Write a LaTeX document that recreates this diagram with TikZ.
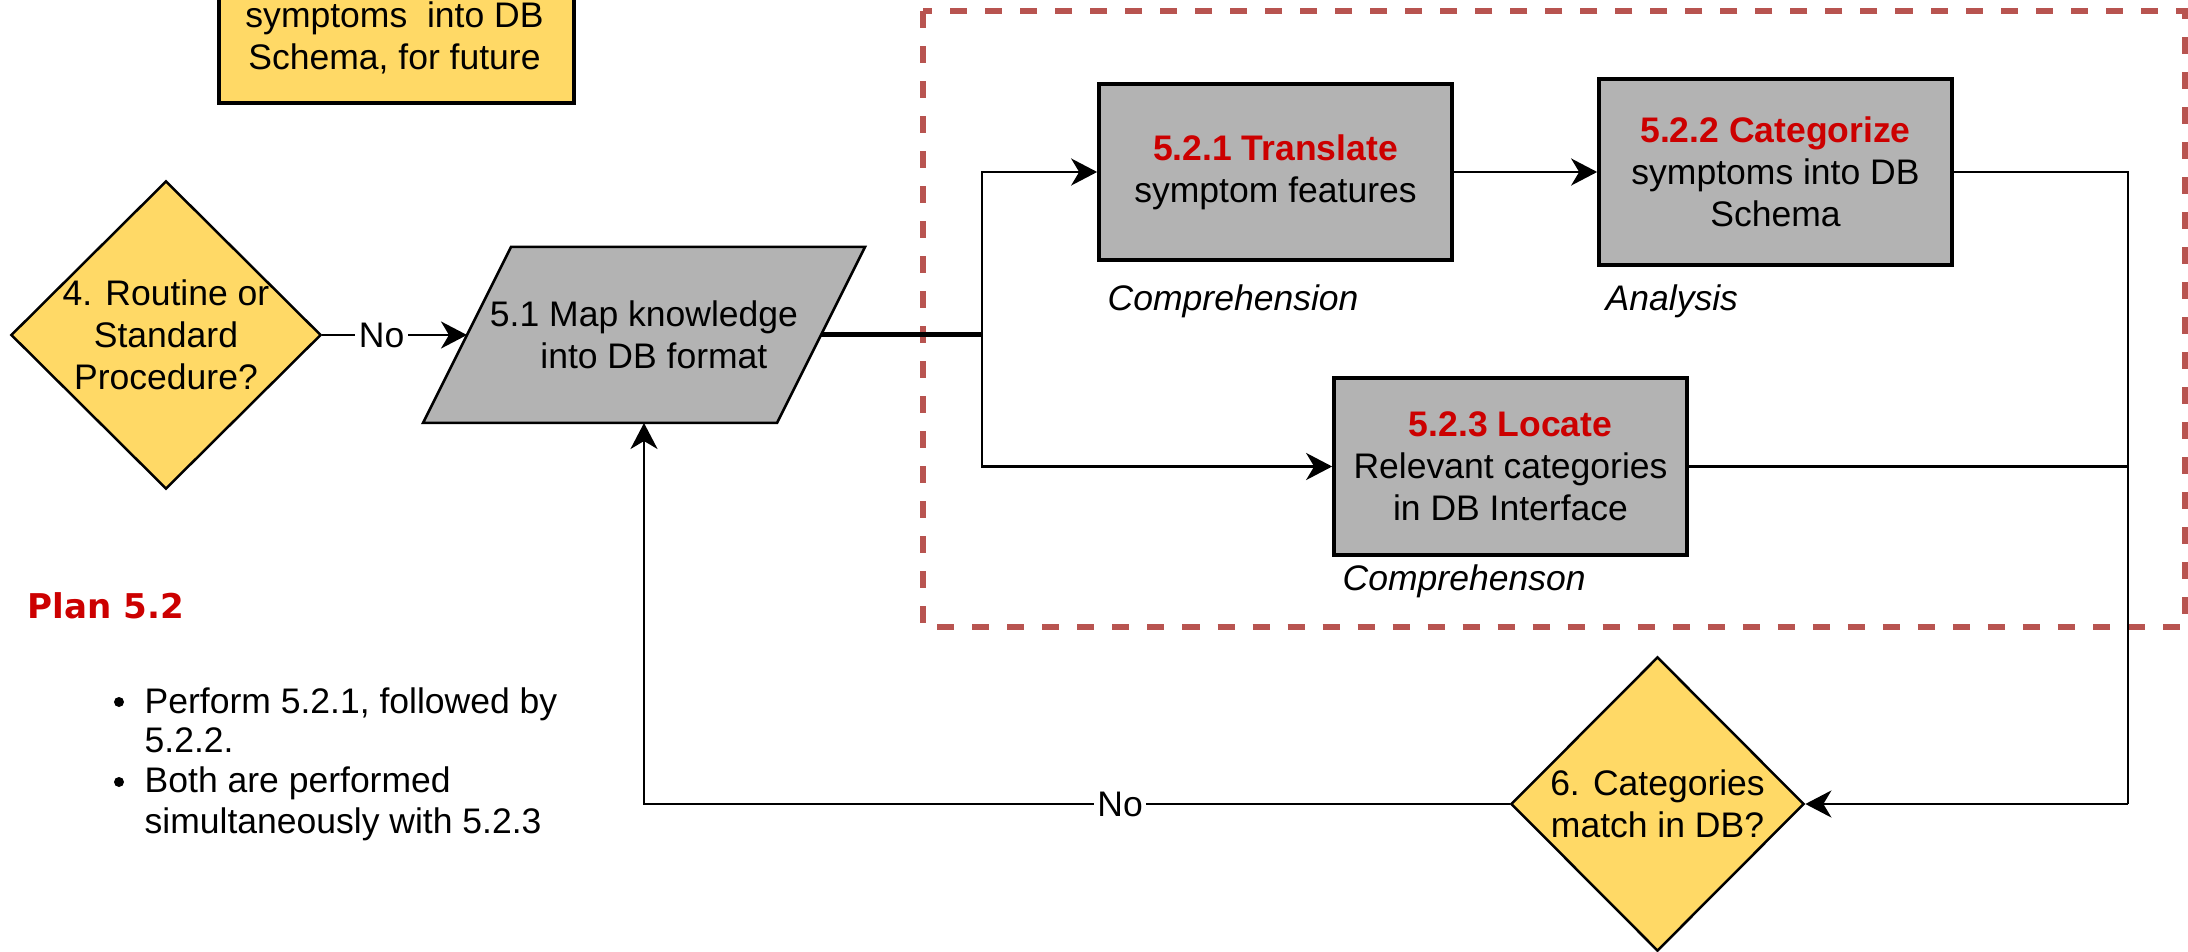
\documentclass[tikz,border=0pt]{standalone}
\usepackage{fontspec}
\setmainfont{Liberation Sans}
\newfontfamily\heavyfont{DejaVu Sans}
\usetikzlibrary{arrows.meta,shapes.geometric}
\definecolor{boxyellow}{HTML}{FFD966}
\definecolor{boxgray}{HTML}{B3B3B3}
\definecolor{titlered}{HTML}{CC0000}
\definecolor{groupred}{RGB}{184,84,80}
\newcommand{\basefont}{\fontsize{10.1pt}{11.95pt}\selectfont}

\begin{document}
\begin{tikzpicture}[x=0.01cm, y=-0.01cm,
  every node/.style={font=\basefont, inner sep=0pt},
  stepbox/.style={rectangle, draw=black, line width=0.035cm, fill=boxgray,
    minimum width=3.53cm, align=center},
  decision/.style={diamond, aspect=1, draw=black, line width=0.025cm, fill=boxyellow},
  memobox/.style={rectangle, draw=black, line width=0.035cm, fill=boxyellow},
  dataio/.style={draw=black, line width=0.025cm, fill=boxgray, line join=miter},
  flow/.style={draw=black, line width=0.027cm},
  arr/.style={flow, -{Stealth[length=0.26cm, width=0.27cm, inset=0.08cm]}},
  edgelabel/.style={fill=white, inner sep=1pt},
  rolelabel/.style={font=\basefont\itshape, anchor=base west},
  plantext/.style={anchor=base west},
  bulletdot/.style={circle, fill=black, minimum size=0.1cm},
  groupframe/.style={draw=groupred, line width=0.06cm, dash pattern=on 0.17cm off 0.18cm},
]
\useasboundingbox (0,0) rectangle (2188,952);
\fill[white] (0,0) rectangle (2188,952);
\clip (0,0) rectangle (2188,952);

% dashed frame around the sub-tasks of 5.2
\draw[groupframe] (923,11) rectangle (2185,627);

% note box at the top (continues above the page)
\node[memobox, minimum width=3.55cm, minimum height=2.2cm, anchor=south west] (memo) at (217,105) {};
\node[align=center] (memotext) at (394.5,38) {symptoms\ \ into DB\\Schema, for future};

% decision 4
\node[decision, minimum width=3.10cm, minimum height=3.08cm] (d4) at (166,335) {};
\node[align=center] (d4t) at (d4) {4. Routine or\\Standard\\Procedure?};

% step 5.1: parallelogram with its ports
\path[dataio] (423,423) -- (511,247) -- (865,247) -- (777,423) -- cycle;
\node[align=center] (p51) at (644,335) {5.1 Map knowledge\\\ \ into DB format};
\coordinate (p51w) at (467,335);
\coordinate (p51e) at (821,335);
\coordinate (p51s) at (644,423);

% sub-steps
\node[stepbox, minimum height=1.76cm] (t521) at (1275.5,172)
  {{\color{titlered}\bfseries 5.2.1 Translate}\\symptom features};
\node[stepbox, minimum height=1.86cm] (t522) at (1775.5,172)
  {{\color{titlered}\bfseries 5.2.2 Categorize}\\symptoms into DB\\Schema};
\node[stepbox, minimum height=1.77cm] (t523) at (1510.5,466.5)
  {{\color{titlered}\bfseries 5.2.3 Locate}\\Relevant categories\\in DB Interface};

\node[rolelabel] (r521) at (1107,311) {Comprehension};
\node[rolelabel] (r522) at (1605,311) {Analysis};
\node[rolelabel] (r523) at (1342,590) {Comprehenson};

% decision 6
\node[decision, minimum width=2.93cm, minimum height=2.94cm] (d6) at (1657.5,804) {};
\node[align=center] (d6t) at (d6) {6. Categories\\match in DB?};

% plan
\node[plantext, text=titlered, font=\fontsize{9.7pt}{11.95pt}\heavyfont\bfseries] (plan) at (27,618) {Plan 5.2};
\node[bulletdot] (dot1) at (119,702) {};
\node[plantext] (b1a) at (144,713) {Perform 5.2.1, followed by};
\node[plantext] (b1b) at (144,752) {5.2.2.};
\node[bulletdot] (dot2) at (119,782) {};
\node[plantext] (b2a) at (144,792) {Both are performed};
\node[plantext] (b2b) at (144,833) {simultaneously with 5.2.3};

% connectors
\coordinate (split) at (982,335);
\coordinate (rail) at (2128,804);

\draw[arr] (d4) -- node[edgelabel, pos=0.41] (no1) {No} (p51w);
\draw[flow, line width=0.05cm] (p51e) -- (split);
\draw[arr] (split) |- (t521);
\draw[arr] (split) |- (t523);
\draw[arr] (t521) -- (t522);
\draw[flow] (t522.east) -| (rail);
\draw[flow] (t523.east) -- (t523.east -| rail);
\draw[arr] (rail) -- (d6);
\draw[arr] (d6) -| node[edgelabel, pos=0.225] (no2) {No} (p51s);
\end{tikzpicture}
\end{document}
